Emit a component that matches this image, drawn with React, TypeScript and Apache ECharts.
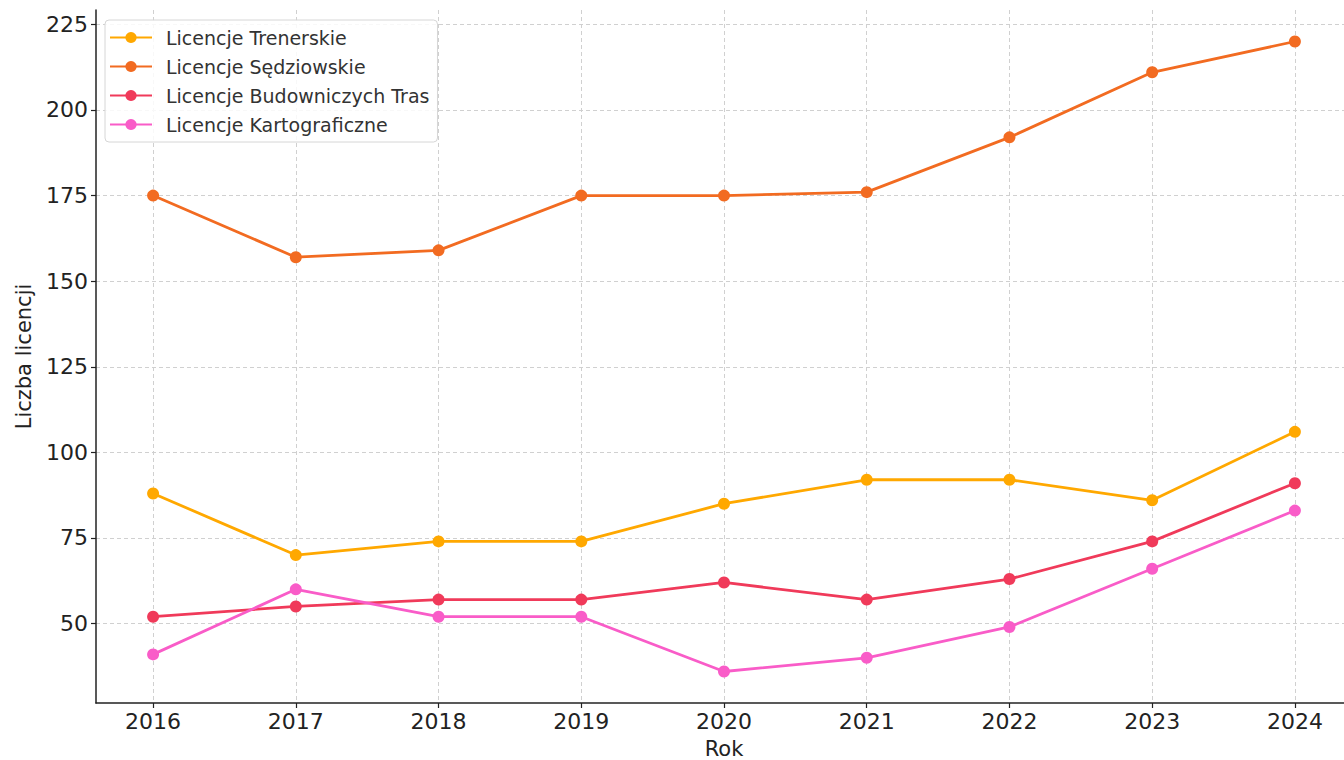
import React, { useEffect, useRef } from "react";
import * as echarts from "echarts";

const years = [2016, 2017, 2018, 2019, 2020, 2021, 2022, 2023, 2024];
const trenerskie = [88, 70, 74, 74, 85, 92, 92, 86, 106];
const sedziowskie = [175, 157, 159, 175, 175, 176, 192, 211, 220];
const budowniczych = [52, 55, 57, 57, 62, 57, 63, 74, 91];
const kartograficzne = [41, 60, 52, 52, 36, 40, 49, 66, 83];
const yTicks = [50, 75, 100, 125, 150, 175, 200, 225];

const seriesDefs = [
  { name: "Licencje Trenerskie", data: trenerskie, color: "#FFA800" },
  { name: "Licencje Sędziowskie", data: sedziowskie, color: "#F26B21" },
  { name: "Licencje Budowniczych Tras", data: budowniczych, color: "#F03A5A" },
  { name: "Licencje Kartograficzne", data: kartograficzne, color: "#F95CC8" },
];

const FONT = "DejaVu Sans";

export default function App() {
  const ref = useRef<HTMLDivElement>(null);
  useEffect(() => {
    if (!ref.current) return;
    const chart = echarts.init(ref.current, null, { renderer: "svg" });
    const split = { show: true, lineStyle: { color: "#d0d0d0", type: [4, 3], width: 1 } };
    chart.setOption({
      animation: false,
      backgroundColor: "#ffffff",
      textStyle: { fontFamily: FONT },
      grid: { left: 96, right: 48, top: 10, bottom: 57, outerBoundsMode: "none", containLabel: false },
      legend: {
        orient: "vertical",
        left: 105,
        top: 20,
        itemWidth: 42,
        itemHeight: 14,
        itemGap: 10,
        padding: [8, 8, 8, 4],
        borderColor: "#d6d6d6",
        borderWidth: 1,
        borderRadius: 4,
        backgroundColor: "rgba(255,255,255,0.85)",
        textStyle: { fontFamily: FONT, fontSize: 19, color: "#333333", padding: [0, 0, 0, 9] },
        data: seriesDefs.map((s) => s.name),
      },
      xAxis: {
        type: "value",
        min: 2015.6,
        max: 2024.4,
        name: "Rok",
        nameLocation: "middle",
        nameGap: 35,
        nameTextStyle: { fontFamily: FONT, fontSize: 21, color: "#222" },
        axisLine: { show: true, lineStyle: { color: "#222", width: 1.5 } },
        axisTick: { show: true, customValues: years, length: 5, lineStyle: { color: "#222", width: 1.2 } },
        axisLabel: { customValues: years, fontFamily: FONT, fontSize: 22, color: "#222", margin: 7, formatter: (v: number) => String(v) },
        splitLine: split,
      },
      yAxis: {
        type: "value",
        min: 26.8,
        max: 229.2,
        name: "Liczba licencji",
        nameLocation: "middle",
        nameGap: 62,
        nameRotate: 90,
        nameTextStyle: { fontFamily: FONT, fontSize: 21, color: "#222" },
        axisLine: { show: true, lineStyle: { color: "#222", width: 1.5 } },
        axisTick: { show: true, customValues: yTicks, length: 5, lineStyle: { color: "#222", width: 1.2 } },
        axisLabel: { customValues: yTicks, fontFamily: FONT, fontSize: 22, color: "#222", margin: 8 },
        splitLine: split,
      },
      series: seriesDefs.map((s) => ({
        name: s.name,
        type: "line",
        data: s.data.map((v, i) => [years[i], v]),
        color: s.color,
        symbol: "circle",
        symbolSize: 12,
        lineStyle: { width: 2.8, color: s.color },
        itemStyle: { color: s.color },
      })),
    });
    return () => chart.dispose();
  }, []);
  return (
    <div style={{ position: "fixed", left: 0, top: 0, width: 1344, height: 760, overflow: "hidden", background: "#fff" }}>
      <div ref={ref} style={{ width: 1400, height: 760 }} />
    </div>
  );
}
